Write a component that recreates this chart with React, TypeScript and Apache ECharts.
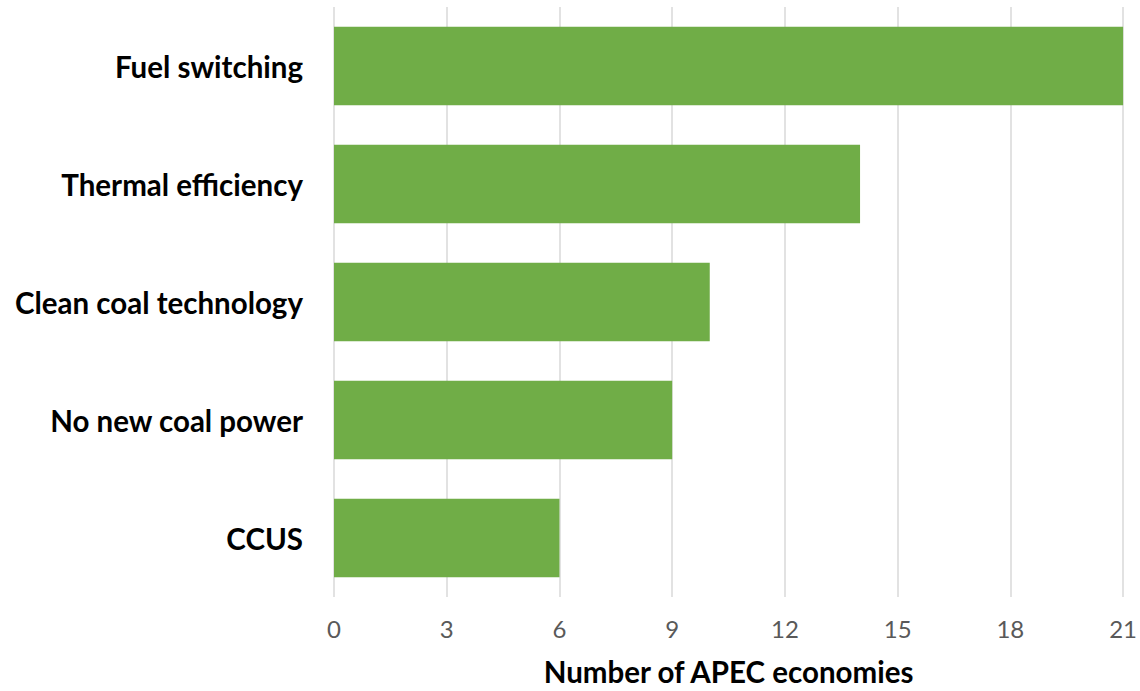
import React, { useEffect, useRef } from "react";
import * as echarts from "echarts";

const categories = [
  "Fuel switching",
  "Thermal efficiency",
  "Clean coal technology",
  "No new coal power",
  "CCUS",
];
const values = [21, 14, 10, 9, 6];
const xTicks = { min: 0, max: 21, interval: 3 };
const xTitle = "Number of APEC economies";

export default function App() {
  const ref = useRef<HTMLDivElement>(null);
  useEffect(() => {
    document.body.style.margin = "0";
    const chart = echarts.init(ref.current!, null, { renderer: "svg" });
    chart.setOption({
      animation: false,
      grid: { left: 334, right: 12, top: 7, bottom: 85, containLabel: false },
      xAxis: {
        type: "value",
        min: xTicks.min,
        max: xTicks.max,
        interval: xTicks.interval,
        axisLine: { show: false },
        axisTick: { show: false },
        splitLine: { show: true, lineStyle: { color: "#d9d9d9", width: 1.5 } },
        axisLabel: {
          color: "#595959",
          fontFamily: "Lato",
          fontSize: 24,
          margin: 19,
        },
        name: xTitle,
        nameLocation: "middle",
        nameGap: 59,
        nameTextStyle: {
          color: "#000",
          fontFamily: "Lato",
          fontWeight: "bold",
          fontSize: 29.5,
        },
      },
      yAxis: {
        type: "category",
        data: categories,
        inverse: true,
        axisLine: { show: false },
        axisTick: { show: false },
        splitLine: { show: false },
        axisLabel: {
          color: "#000",
          fontFamily: "Lato",
          fontWeight: "bold",
          fontSize: 29.5,
          margin: 31,
        },
      },
      series: [
        {
          type: "bar",
          data: values,
          barCategoryGap: "33.5%",
          itemStyle: { color: "#70AD47" },
        },
      ],
    });
    return () => chart.dispose();
  }, []);
  return <div ref={ref} style={{ width: 1140, height: 691 }} />;
}
